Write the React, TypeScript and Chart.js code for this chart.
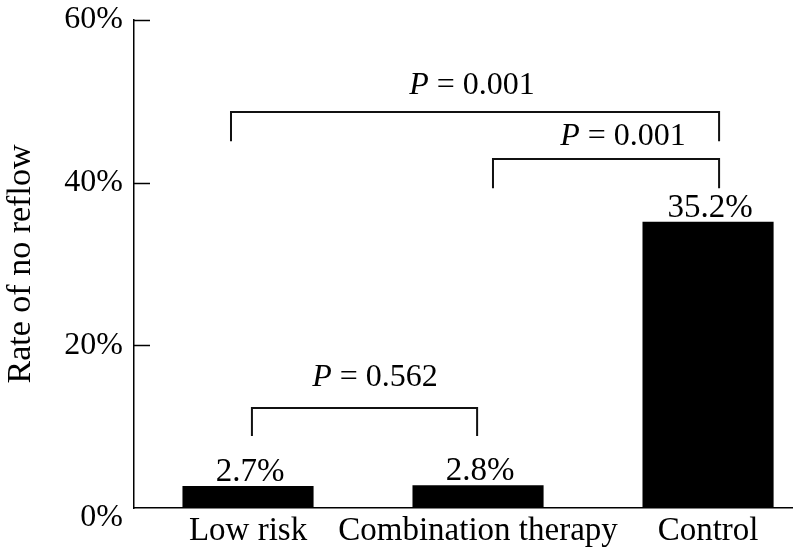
import React, { useEffect, useRef } from 'react';
import { Chart, registerables } from 'chart.js';

Chart.register(...registerables);

const categories = ['Low risk', 'Combination therapy', 'Control'];
const rates = [2.7, 2.8, 35.2];
const rateLabels = ['2.7%', '2.8%', '35.2%'];
const yTicks = [0, 20, 40, 60];
const yTickLabels = ['0%', '20%', '40%', '60%'];
const yTitle = 'Rate of no reflow';

// significance brackets (positions along the category axis / value axis)
const bracketFrom = [0.017, 1.065, -0.074];
const bracketTo = [0.996, 2.048, 2.048];
const bracketTop = [12.3, 42.9, 48.7];
const bracketLeg = [8.85, 39.3, 45.1];
const pValues = ['0.562', '0.001', '0.001'];
const pLabelX = [0.552, 1.63, 0.974];
const pLabelY = [15.0, 44.6, 50.9];

const FONT = '"Liberation Serif", "Times New Roman", serif';

const annotations = {
  id: 'annotations',
  afterDatasetsDraw(chart: any) {
    const { ctx, chartArea, scales } = chart;
    const xs = scales.x;
    const ys = scales.y;
    ctx.save();
    // inner tick marks and tick labels
    ctx.strokeStyle = '#000';
    ctx.lineWidth = 1.5;
    ctx.fillStyle = '#000';
    ctx.font = `32px ${FONT}`;
    ctx.textAlign = 'right';
    ctx.textBaseline = 'middle';
    yTicks.forEach((v, i) => {
      const py = ys.getPixelForValue(v);
      if (v !== 0) {
        const ly = Math.round(py) + 0.5;
        ctx.beginPath();
        ctx.moveTo(chartArea.left, ly);
        ctx.lineTo(chartArea.left + 16, ly);
        ctx.stroke();
        ctx.fillText(yTickLabels[i], chartArea.left - 11, py);
      } else {
        ctx.fillText(yTickLabels[i], chartArea.left - 11, py + 10);
      }
    });
    // value labels
    const meta = chart.getDatasetMeta(0);
    ctx.font = `33px ${FONT}`;
    ctx.textAlign = 'center';
    ctx.textBaseline = 'alphabetic';
    meta.data.forEach((bar: any, i: number) => {
      ctx.fillText(rateLabels[i], bar.x + 2, bar.y - 5);
    });
    // brackets
    ctx.lineWidth = 2;
    ctx.strokeStyle = '#111';
    for (let i = 0; i < pValues.length; i++) {
      const x1 = xs.getPixelForValue(bracketFrom[i]);
      const x2 = xs.getPixelForValue(bracketTo[i]);
      const yt = ys.getPixelForValue(bracketTop[i]);
      const yl = ys.getPixelForValue(bracketLeg[i]);
      ctx.beginPath();
      ctx.moveTo(x1, yl);
      ctx.lineTo(x1, yt);
      ctx.lineTo(x2, yt);
      ctx.lineTo(x2, yl);
      ctx.stroke();
      const cx = xs.getPixelForValue(pLabelX[i]);
      const by = ys.getPixelForValue(pLabelY[i]);
      const italic = `italic 32px ${FONT}`;
      const regular = `32px ${FONT}`;
      const rest = ` = ${pValues[i]}`;
      ctx.font = italic;
      const w1 = ctx.measureText('P').width;
      ctx.font = regular;
      const w2 = ctx.measureText(rest).width;
      const start = cx - (w1 + w2) / 2;
      ctx.textAlign = 'left';
      ctx.font = italic;
      ctx.fillText('P', start, by);
      ctx.font = regular;
      ctx.fillText(rest, start + w1, by);
    }
    ctx.restore();
  },
};

export default function App() {
  const ref = useRef<HTMLCanvasElement | null>(null);
  useEffect(() => {
    if (!ref.current) return;
    const chart = new Chart(ref.current, {
      type: 'bar',
      data: {
        datasets: [
          {
            data: categories.map((_, i) => ({ x: i, y: rates[i] })) as any,
            backgroundColor: '#000',
            borderWidth: 0,
            barPercentage: 0.57,
            categoryPercentage: 1,
          },
        ],
      },
      options: {
        animation: false,
        responsive: false,
        layout: { padding: { top: 20, right: 7, left: 0, bottom: 0 } },
        plugins: { legend: { display: false }, tooltip: { enabled: false } },
        scales: {
          x: {
            type: 'linear',
            offset: false,
            min: -0.4957,
            max: 2.365,
            grid: { display: false, drawTicks: false, offset: false },
            border: { display: true, color: '#000', width: 1.5 },
            afterBuildTicks: (s: any) => {
              s.ticks = categories.map((_, i) => ({ value: i }));
            },
            afterFit: (s: any) => {
              s.height = 49;
            },
            ticks: {
              autoSkip: false,
              maxRotation: 0,
              minRotation: 0,
              padding: 4,
              color: '#000',
              font: { family: FONT, size: 33 },
              callback: (v: any) => categories[v] ?? '',
            },
          },
          y: {
            min: 0,
            max: 60,
            grid: { display: false, drawTicks: false },
            border: { display: true, color: '#000', width: 1.5 },
            afterBuildTicks: (s: any) => {
              s.ticks = yTicks.map((v) => ({ value: v }));
            },
            afterFit: (s: any) => {
              s.width = 134;
            },
            ticks: { display: false },
            title: {
              display: true,
              text: yTitle,
              color: '#000',
              font: { family: FONT, size: 34 },
              padding: { top: 1, bottom: 0 },
            },
          },
        },
      },
      plugins: [annotations],
    });
    return () => chart.destroy();
  }, []);
  return (
    <div style={{ position: 'absolute', left: 0, top: 0, width: 799, height: 557, background: '#fff' }}>
      <canvas ref={ref} width={799} height={557} />
    </div>
  );
}
